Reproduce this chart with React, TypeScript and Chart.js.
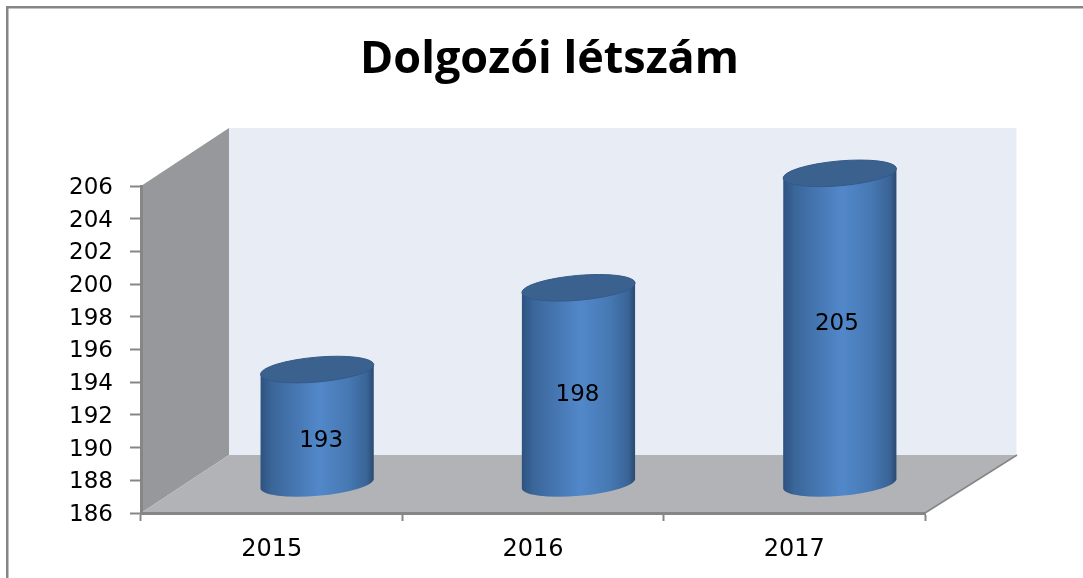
import React, { useEffect, useRef } from "react";
import { Chart, registerables } from "chart.js";

Chart.register(...registerables);

const titleText = "Dolgozói létszám";
const years = ["2015", "2016", "2017"];
const headcount = [193, 198, 205];
const axisMin = 186;
const axisMax = 206;
const axisStep = 2;

const AXIS = "#868686";
const DEPTH_LEFT = 88;
const DEPTH_RIGHT = 92;
const DEPTH_Y = 58;
const BAR_SHIFT_X = 45.5;
const BAR_SHIFT_Y = 29;
const TILT = (-5 * Math.PI) / 180;
const ELLIPSE_RY = 12.4;
const LABEL_NUDGE = [
  { x: 4, y: 15 },
  { x: -1, y: 9 },
  { x: -3, y: -4 },
];

const scenePlugin = {
  id: "scene3d",
  beforeDraw(chart: any) {
    const { ctx, chartArea: a, width, height } = chart;
    ctx.save();
    ctx.fillStyle = "#ffffff";
    ctx.fillRect(0, 0, width, height);
    ctx.fillStyle = AXIS;
    ctx.fillRect(6, 6, width - 6, 2.5);
    ctx.fillRect(6, 6, 2.5, height - 6);

    const poly = (color: string, pts: number[][]) => {
      ctx.fillStyle = color;
      ctx.beginPath();
      pts.forEach((p, i) => (i ? ctx.lineTo(p[0], p[1]) : ctx.moveTo(p[0], p[1])));
      ctx.closePath();
      ctx.fill();
    };
    const backL = a.left + DEPTH_LEFT;
    const backR = a.right + DEPTH_RIGHT;
    const backT = a.top - DEPTH_Y;
    const backB = a.bottom - DEPTH_Y;
    poly("#e8ecf5", [[backL, backT], [backR - 0.5, backT], [backR - 0.5, backB], [backL, backB]]);
    poly("#97989b", [[a.left, a.top], [backL, backT], [backL, backB], [a.left, a.bottom]]);
    poly("#b1b3b6", [[a.left, a.bottom], [backL, backB], [backR, backB], [a.right, a.bottom]]);
    ctx.strokeStyle = AXIS;
    ctx.lineWidth = 1.5;
    ctx.beginPath();
    ctx.moveTo(a.right, a.bottom);
    ctx.lineTo(backR, backB);
    ctx.stroke();
    ctx.restore();
  },
  afterDatasetsDraw(chart: any) {
    const { ctx } = chart;
    const meta = chart.getDatasetMeta(0);
    meta.data.forEach((bar: any, i: number) => {
      const cx = bar.x + BAR_SHIFT_X;
      const r = bar.width / 2;
      const topY = bar.y - BAR_SHIFT_Y;
      const botY = bar.base - BAR_SHIFT_Y;
      const rise = r * Math.sin(-TILT);

      const grad = ctx.createLinearGradient(cx - r, 0, cx + r, 0);
      grad.addColorStop(0, "#2e5280");
      grad.addColorStop(0.1, "#3a6699");
      grad.addColorStop(0.3, "#4676b1");
      grad.addColorStop(0.52, "#5288ca");
      grad.addColorStop(0.78, "#4678b2");
      grad.addColorStop(0.94, "#3a6496");
      grad.addColorStop(1, "#2a4a70");

      ctx.save();
      ctx.fillStyle = grad;
      ctx.beginPath();
      ctx.moveTo(cx - r, topY + rise);
      ctx.lineTo(cx + r, topY - rise);
      ctx.lineTo(cx + r, botY - rise);
      ctx.ellipse(cx, botY, r + 0.3, ELLIPSE_RY, TILT, 0, Math.PI, false);
      ctx.closePath();
      ctx.fill();

      ctx.fillStyle = "#3b618f";
      ctx.strokeStyle = "#355a8a";
      ctx.lineWidth = 1;
      ctx.beginPath();
      ctx.ellipse(cx, topY, r + 0.3, ELLIPSE_RY, TILT, 0, Math.PI * 2);
      ctx.fill();
      ctx.stroke();

      ctx.fillStyle = "#000000";
      ctx.font = "23px 'DejaVu Sans'";
      ctx.textAlign = "center";
      ctx.textBaseline = "middle";
      ctx.fillText(
        String(headcount[i]),
        cx + LABEL_NUDGE[i].x,
        (topY + botY) / 2 + LABEL_NUDGE[i].y
      );
      ctx.restore();
    });
  },
};

export default function App() {
  const ref = useRef<HTMLCanvasElement>(null);
  useEffect(() => {
    const chart = new Chart(ref.current!, {
      type: "bar",
      data: {
        labels: years,
        datasets: [
          {
            data: headcount,
            base: axisMin,
            backgroundColor: "rgba(0,0,0,0)",
            borderWidth: 0,
            categoryPercentage: 1,
            barPercentage: 0.433,
          },
        ],
      },
      options: {
        responsive: false,
        animation: false,
        layout: { padding: { left: 16, right: 0, top: 0, bottom: 0 } },
        plugins: {
          legend: { display: false },
          tooltip: { enabled: false },
          title: {
            display: true,
            text: titleText,
            color: "#000000",
            font: { family: "'Open Sans'", size: 45, weight: "bold", lineHeight: 1.2 },
            padding: { top: 33, bottom: 99 },
          },
        },
        scales: {
          x: {
            offset: true,
            border: { color: AXIS, width: 3 },
            grid: {
              drawOnChartArea: false,
              drawTicks: true,
              tickLength: 8,
              tickColor: AXIS,
              tickWidth: 2,
            },
            ticks: {
              color: "#000000",
              padding: 14,
              maxRotation: 0,
              font: { family: "'DejaVu Sans'", size: 24 },
            },
            afterFit: (s: any) => {
              s.height = 65;
            },
          },
          y: {
            min: axisMin,
            max: axisMax,
            border: { color: AXIS, width: 3 },
            grid: {
              drawOnChartArea: false,
              drawTicks: true,
              tickLength: 11,
              tickColor: AXIS,
              tickWidth: 2,
            },
            ticks: {
              stepSize: axisStep,
              color: "#000000",
              padding: 17,
              autoSkip: false,
              labelOffset: 2,
              font: { family: "'DejaVu Sans'", size: 23 },
            },
            afterFit: (s: any) => {
              s.width = 125;
            },
          },
          spacer: {
            position: "right",
            display: true,
            border: { display: false },
            grid: { display: false, drawTicks: false },
            ticks: { display: false },
            afterFit: (s: any) => {
              s.width = 158;
            },
          },
        },
      } as any,
      plugins: [scenePlugin],
    });
    return () => chart.destroy();
  }, []);
  return (
    <div style={{ position: "absolute", left: 0, top: 0, width: 1083, height: 578, overflow: "hidden" }}>
      <canvas ref={ref} width={1083} height={578} style={{ display: "block" }} />
    </div>
  );
}
